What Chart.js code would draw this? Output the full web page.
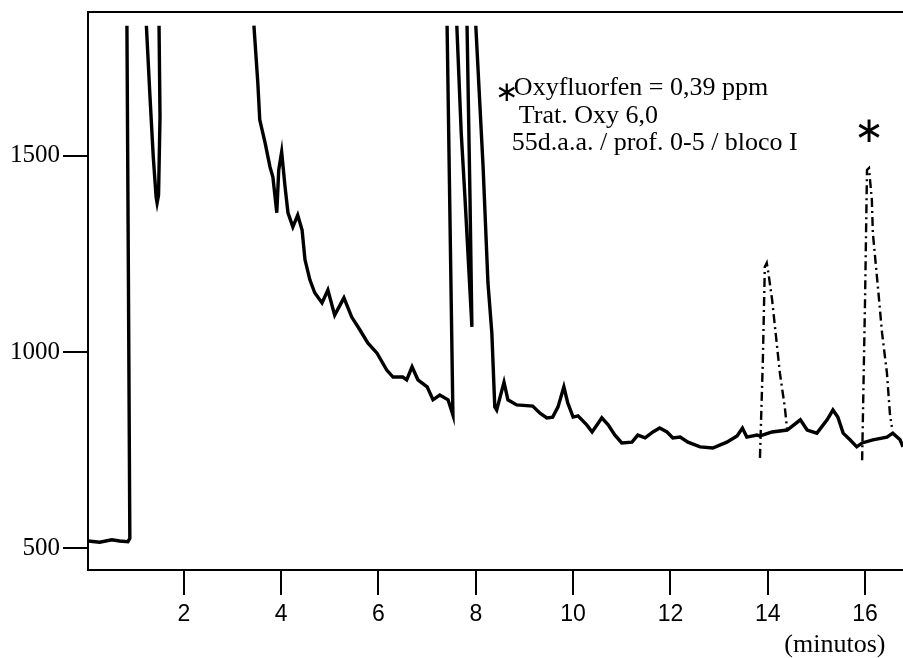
<!DOCTYPE html>
<html>
<head>
<meta charset="utf-8">
<script src="https://cdn.jsdelivr.net/npm/chart.js@4"></script>
<style>
  html, body { margin: 0; padding: 0; background: #fff; }
  canvas { display: block; }
</style>
</head>
<body>
<canvas id="myChart" width="903" height="658"></canvas>
<script>
// retention time (min) and detector signal
// null = trace runs off the top of the recorder paper
const mainTime = [0.03, 0.27, 0.52, 0.68, 0.85, 0.89, 0.86, 0.83, 1.0,
    1.23, 1.30, 1.37, 1.43, 1.45, 1.48, 1.51, 1.49, 2.5,
    3.44, 3.52, 3.56, 3.67, 3.77, 3.83, 3.91, 3.95, 4.01, 4.08, 4.14, 4.24, 4.34, 4.43, 4.49,
    4.59, 4.69, 4.84, 4.96, 5.10, 5.29, 5.45, 5.62, 5.78, 5.97, 6.17, 6.30, 6.50, 6.58, 6.69,
    6.81, 7.00, 7.12, 7.26, 7.43, 7.53, 7.41, 7.5,
    7.61, 7.70, 7.78, 7.92, 7.88, 7.82, 7.9,
    8.00, 8.15, 8.25, 8.33, 8.39, 8.43, 8.58, 8.66, 8.84, 9.17, 9.32, 9.46, 9.58, 9.69, 9.81,
    9.89, 10.00, 10.10, 10.28, 10.39, 10.49, 10.59, 10.72, 10.86, 11.00, 11.21, 11.33, 11.48,
    11.64, 11.78, 11.93, 12.05, 12.20, 12.36, 12.61, 12.87, 13.16, 13.37, 13.48, 13.57, 13.78,
    13.84, 14.09, 14.40, 14.67, 14.81, 15.01, 15.22, 15.34, 15.44, 15.55, 15.69, 15.83, 15.94,
    16.16, 16.45, 16.57, 16.72, 16.78];
const mainSignal = [518, 515, 521, 518, 516, 525, 1200, 1832, null,
    1832, 1660, 1500, 1395, 1380, 1400, 1600, 1832, null,
    1832, 1686, 1592, 1533, 1472, 1446, 1355, 1464, 1510, 1421, 1355, 1319, 1349, 1311, 1235,
    1184, 1151, 1125, 1158, 1094, 1138, 1089, 1056, 1023, 997, 954, 936, 936, 929, 962,
    929, 911, 878, 890, 878, 839, 1832, null,
    1832, 1560, 1388, 1064, 1400, 1832, null,
    1832, 1472, 1176, 1048, 860, 852, 923, 878, 865, 862, 844, 832, 834, 860, 911,
    870, 834, 837, 814, 796, 814, 832, 814, 788, 768, 770, 788, 781,
    796, 806, 796, 781, 783, 770, 758, 755, 770, 786, 806, 783, 788,
    786, 796, 801, 827, 801, 793, 827, 852, 834, 793, 776, 758, 768,
    776, 783, 793, 776, 758];

// the two late peaks, drawn dash-dot on the original
const peakTime = [13.84, 13.90, 13.94, 13.98, 14.02, 14.09, 14.25, 14.35, 14.40, 15.0,
    15.94, 16.00, 16.04, 16.08, 16.14, 16.16, 16.27, 16.35, 16.45, 16.51, 16.55];
const peakSignal = [730, 980, 1217, 1227, 1196, 1133, 946, 860, 801, null,
    724, 1133, 1464, 1469, 1388, 1304, 1158, 1048, 946, 844, 809];

const xTicks = [2, 4, 6, 8, 10, 12, 14, 16];
const yTicks = [500, 1000, 1500];

const noteLines = ['Oxyfluorfen = 0,39 ppm', 'Trat. Oxy 6,0', '55d.a.a. / prof. 0-5 / bloco I'];
const xLabel = '(minutos)';

function toPoints(xs, ys) {
    return xs.map((x, i) => ({ x: x, y: ys[i] }));
}

const serif = '"Liberation Serif", "Times New Roman", serif';

const extras = {
    id: 'extras',
    afterDraw(chart) {
        const c = chart.ctx;
        const a = chart.chartArea;
        const xs = chart.scales.x;
        const ys = chart.scales.y;
        c.save();
        // top frame line
        c.strokeStyle = '#000';
        c.lineWidth = 2;
        c.beginPath();
        c.moveTo(a.left, a.top);
        c.lineTo(a.right, a.top);
        c.stroke();

        c.fillStyle = '#000';
        c.textBaseline = 'middle';
        c.textAlign = 'left';
        c.font = '26px ' + serif;
        const x0 = xs.getPixelForValue(8.70);
        c.fillText(noteLines[0], x0 + 4, a.top + 76);
        c.fillText(noteLines[1], x0 + 9, a.top + 104);
        c.fillText(noteLines[2], x0 + 2, a.top + 131);

        c.font = '28px "DejaVu Sans", sans-serif';
        c.textAlign = 'center';
        c.fillText('\u2217', x0 - 3, a.top + 82);
        c.font = '36px "DejaVu Sans", sans-serif';
        c.fillText('\u2217', xs.getPixelForValue(16.08), ys.getPixelForValue(1560));

        c.font = '26px ' + serif;
        c.fillText(xLabel, xs.getPixelForValue(15.38), a.bottom + 75);
        c.restore();
    }
};

const ctx = document.getElementById('myChart').getContext('2d');

new Chart(ctx, {
    type: 'scatter',
    data: {
        datasets: [{
            data: toPoints(mainTime, mainSignal),
            showLine: true,
            borderColor: '#000',
            borderWidth: 3.4,
            pointRadius: 0,
            spanGaps: false
        }, {
            data: toPoints(peakTime, peakSignal),
            showLine: true,
            borderColor: '#000',
            borderWidth: 2.4,
            borderDash: [9, 4, 2, 4],
            pointRadius: 0,
            spanGaps: false
        }]
    },
    options: {
        responsive: false,
        animation: false,
        layout: { padding: { top: 12, right: 0, left: 0, bottom: 0 } },
        plugins: {
            legend: { display: false },
            tooltip: { enabled: false }
        },
        scales: {
            x: {
                type: 'linear',
                min: 0.03,
                max: 16.78,
                afterBuildTicks: (s) => { s.ticks = xTicks.map(v => ({ value: v })); },
                afterFit: (s) => { s.height = 88; s.paddingLeft = 0; s.paddingRight = 0; },
                grid: { drawOnChartArea: false, tickLength: 25, color: '#000', lineWidth: 2 },
                border: { color: '#000', width: 2 },
                ticks: {
                    color: '#000',
                    padding: 6,
                    maxRotation: 0,
                    autoSkip: false,
                    callback: (v) => String(v),
                    font: { family: '"Liberation Sans", sans-serif', size: 23 }
                }
            },
            y: {
                type: 'linear',
                min: 444,
                max: 1867,
                afterBuildTicks: (s) => { s.ticks = yTicks.map(v => ({ value: v })); },
                afterFit: (s) => { s.width = 88; s.paddingTop = 0; s.paddingBottom = 0; },
                grid: { drawOnChartArea: false, tickLength: 25, color: '#000', lineWidth: 2 },
                border: { color: '#000', width: 2 },
                ticks: {
                    color: '#000',
                    padding: 3,
                    callback: (v) => String(v),
                    font: { family: serif, size: 25 }
                }
            }
        }
    },
    plugins: [extras]
});
</script>
</body>
</html>
